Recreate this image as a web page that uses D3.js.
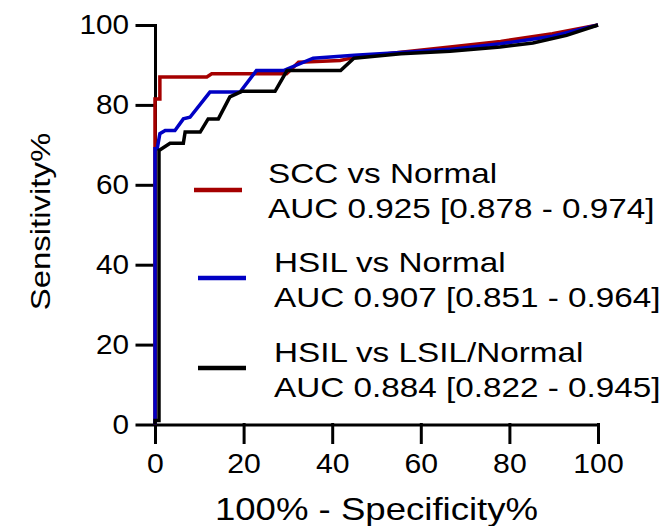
<!DOCTYPE html>
<html>
<head>
<meta charset="utf-8">
<script src="https://cdn.jsdelivr.net/npm/d3@7/dist/d3.min.js"></script>
<style>
  body { margin: 0; background: #fff; }
  svg { display: block; }
  text { font-family: "Liberation Sans", Arial, sans-serif; fill: #000; }
</style>
</head>
<body>
<svg id="chart" width="667" height="526"></svg>
<script>
// ROC curves: [100% - specificity, sensitivity]
var sccNormal = [
    [0, 0], [0, 81.5], [1.1, 81.5], [1.1, 87], [11.7, 87], [12.8, 87.8],
    [29.7, 87.8], [32.4, 90.7], [41.8, 91.1], [45, 91.9], [55.5, 93.2],
    [66.6, 94.5], [78, 95.9], [89.7, 97.8], [100, 100]
];
var hsilNormal = [
    [0, 0], [0, 69], [0.5, 69], [1.1, 72.8], [2.3, 73.6], [4.5, 73.6],
    [6.4, 76.5], [7.9, 76.9], [12.4, 83.2], [19.2, 83.2], [22.9, 88.6],
    [29, 88.6], [35.7, 91.7], [45, 92.4], [55.5, 93.1], [66.6, 93.9],
    [78, 95.3], [89.7, 97.2], [100, 100]
];
var hsilLsilNormal = [
    [0, 0], [0, 1], [0.9, 1], [0.9, 68.6], [3.4, 70.4], [6.4, 70.4],
    [6.8, 73.2], [10.2, 73.2], [12.0, 76.5], [14.3, 76.5], [16.9, 82.0],
    [19.6, 83.4], [27.1, 83.4], [29.8, 88.6], [41.9, 88.6], [44.9, 91.7],
    [55.5, 92.8], [66.6, 93.4], [77.9, 94.5], [85.3, 95.5], [92.9, 97.4],
    [100, 100]
];

var seriesNames = ["SCC vs Normal", "HSIL vs Normal", "HSIL vs LSIL/Normal"];
var seriesAuc = ["AUC 0.925 [0.878 - 0.974]", "AUC 0.907 [0.851 - 0.964]", "AUC 0.884 [0.822 - 0.945]"];
var seriesColors = ["#a50000", "#0000c4", "#000000"];
var xTicks = [0, 20, 40, 60, 80, 100];
var yTicks = [0, 20, 40, 60, 80, 100];

var svg = d3.select("#chart");

var x = d3.scaleLinear().domain([0, 100]).range([155, 598]);
var y = d3.scaleLinear().domain([0, 100]).range([424.5, 25]);

/**
 * Put a horizontally widened text at (tx, ty)
 */
function wideText(parent, str, tx, ty, size, sx, anchor) {
    return parent.append("text")
        .attr("transform", "translate(" + tx + "," + ty + ") scale(" + sx + ",1)")
        .attr("text-anchor", anchor || "start")
        .style("font-size", size + "px")
        .text(str);
}

// axes
var xAxis = svg.append("g")
    .attr("transform", "translate(0," + y(0) + ")")
    .call(d3.axisBottom(x).tickValues(xTicks).tickSize(18).tickSizeOuter(0).tickPadding(11.5));

var yAxis = svg.append("g")
    .attr("transform", "translate(" + x(0) + ",0)")
    .call(d3.axisLeft(y).tickValues(yTicks).tickSize(18).tickSizeOuter(0));

[xAxis, yAxis].forEach(function (ax) {
    ax.selectAll(".domain, .tick line")
        .attr("stroke", "#000")
        .attr("stroke-width", 3)
        .attr("stroke-linecap", "square");
    ax.selectAll("text").style("font-size", "27px").attr("fill", "#000");
});

xAxis.selectAll("text").attr("transform", "scale(1.12,1)");
yAxis.selectAll("text")
    .attr("x", null)
    .attr("transform", "translate(-26,0) scale(1.1,1)");

// curves
var line = d3.line()
    .x(function (d) { return x(d[0]); })
    .y(function (d) { return y(d[1]); });

var curves = [sccNormal, hsilNormal, hsilLsilNormal];
curves.forEach(function (data, i) {
    svg.append("path")
        .datum(data)
        .attr("fill", "none")
        .attr("stroke", seriesColors[i])
        .attr("stroke-width", 3.5)
        .attr("stroke-linejoin", "miter")
        .attr("d", line);
});

// legend
var legendPos = [
    { sx: 194, sy: 190, tx: 268, ty: 183 },
    { sx: 198, sy: 278, tx: 274, ty: 272 },
    { sx: 198, sy: 368, tx: 274, ty: 362 }
];
var legend = svg.append("g");
seriesNames.forEach(function (name, i) {
    var p = legendPos[i];
    legend.append("line")
        .attr("x1", p.sx).attr("x2", p.sx + 48)
        .attr("y1", p.sy).attr("y2", p.sy)
        .attr("stroke", seriesColors[i])
        .attr("stroke-width", 4.5);
    wideText(legend, name, p.tx, p.ty, 27.5, 1.21);
    wideText(legend, seriesAuc[i], p.tx, p.ty + 35, 27.5, 1.21);
});

// axis titles
wideText(svg, "100% - Specificity%", 376.5, 520, 31, 1.18, "middle");
svg.append("text")
    .attr("transform", "translate(50,221.5) rotate(-90) scale(1.22,1)")
    .attr("text-anchor", "middle")
    .style("font-size", "27px")
    .text("Sensitivity%");
</script>
</body>
</html>
